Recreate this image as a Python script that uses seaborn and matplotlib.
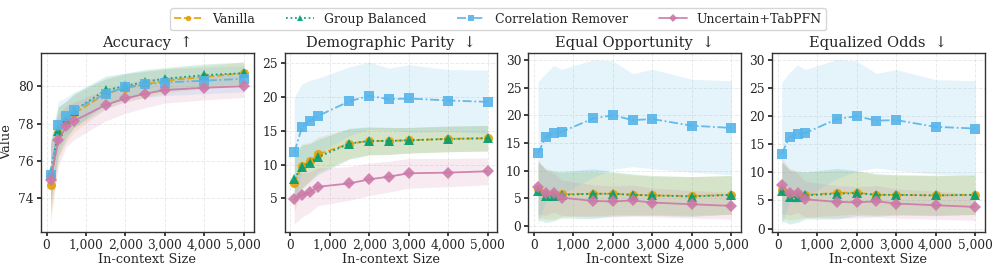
import numpy as np
import pandas as pd
import matplotlib
matplotlib.use("Agg")
import matplotlib.pyplot as plt
import seaborn as sns
from matplotlib.ticker import StrMethodFormatter

sizes = [100, 300, 500, 700, 1500, 2000, 2500, 3000, 4000, 5000]
methods = ["Vanilla", "Group Balanced", "Correlation Remover", "Uncertain+TabPFN"]
metrics = ["Accuracy  \u2191", "Demographic Parity  \u2193", "Equal Opportunity  \u2193", "Equalized Odds  \u2193"]

# means
acc_vanilla = [74.69, 77.5, 78.1, 78.55, 79.6, 79.9, 80.1, 80.3, 80.5, 80.7]
acc_group = [75.4, 77.6, 78.2, 78.7, 79.8, 80.0, 80.25, 80.4, 80.6, 80.7]
acc_cr = [75.25, 77.9, 78.4, 78.75, 79.6, 79.95, 80.1, 80.2, 80.3, 80.4]
acc_unc = [75.0, 77.1, 77.85, 78.15, 79.0, 79.35, 79.6, 79.8, 79.92, 80.0]

dp_vanilla = [7.2, 9.8, 10.5, 11.5, 13.1, 13.5, 13.5, 13.6, 13.8, 13.9]
dp_group = [7.9, 9.7, 10.3, 11.1, 13.1, 13.5, 13.5, 13.6, 13.8, 13.9]
dp_cr = [11.8, 15.6, 16.5, 17.2, 19.4, 20.2, 19.7, 19.8, 19.5, 19.3]
dp_unc = [4.85, 5.5, 5.9, 6.7, 7.2, 7.8, 8.2, 8.7, 8.8, 9.0]

eop_vanilla = [6.6, 5.8, 5.5, 5.7, 5.8, 5.8, 5.6, 5.5, 5.4, 5.6]
eop_group = [6.3, 5.4, 5.4, 5.6, 5.8, 5.8, 5.6, 5.5, 5.3, 5.6]
eop_cr = [13.1, 16.1, 16.7, 17.0, 19.4, 20.0, 19.1, 19.3, 18.1, 17.7]
eop_unc = [7.1, 5.9, 6.0, 5.1, 4.5, 4.4, 4.6, 4.2, 3.9, 3.6]

eod_vanilla = [6.9, 6.1, 6.0, 6.0, 6.35, 6.4, 6.0, 6.0, 5.9, 6.0]
eod_group = [6.6, 5.6, 5.6, 5.9, 6.2, 6.3, 6.0, 6.0, 5.9, 6.0]
eod_cr = [13.3, 16.3, 16.8, 17.0, 19.5, 20.0, 19.2, 19.3, 18.1, 17.8]
eod_unc = [7.7, 6.4, 6.35, 5.2, 4.75, 4.65, 4.85, 4.45, 4.15, 3.85]

# standard deviations (band half-widths)
acc_vanilla_sd = [2.1, 1.4, 1.1, 1.0, 0.8, 0.75, 0.7, 0.65, 0.6, 0.6]
acc_group_sd = [1.6, 1.3, 1.0, 0.9, 0.75, 0.7, 0.65, 0.6, 0.6, 0.6]
acc_cr_sd = [1.8, 1.3, 1.0, 0.95, 0.8, 0.75, 0.7, 0.7, 0.7, 0.7]
acc_unc_sd = [1.9, 1.4, 1.1, 1.0, 0.85, 0.8, 0.75, 0.7, 0.65, 0.6]

dp_vanilla_sd = [4.2, 3.3, 2.8, 2.6, 2.2, 2.0, 2.0, 1.9, 1.9, 1.9]
dp_group_sd = [4.0, 3.2, 2.8, 2.6, 2.3, 2.1, 2.0, 1.9, 1.9, 1.9]
dp_cr_sd = [8.2, 6.4, 6.0, 5.6, 5.1, 5.0, 4.6, 5.0, 4.6, 4.7]
dp_unc_sd = [3.7, 3.3, 3.0, 2.8, 2.5, 2.4, 2.3, 2.2, 2.1, 2.0]

eop_vanilla_sd = [5.0, 4.6, 4.3, 4.0, 4.0, 3.8, 3.6, 3.5, 3.5, 3.5]
eop_group_sd = [5.2, 4.8, 4.5, 4.2, 4.5, 4.0, 3.8, 3.6, 3.6, 3.5]
eop_cr_sd = [12.9, 11.5, 12.3, 11.3, 10.6, 9.8, 8.4, 9.0, 8.4, 8.5]
eop_unc_sd = [5.0, 4.0, 3.5, 3.2, 2.9, 2.8, 2.8, 2.6, 2.5, 2.4]

eod_vanilla_sd = [5.0, 4.6, 4.3, 4.0, 4.0, 3.8, 3.6, 3.5, 3.5, 3.5]
eod_group_sd = [5.2, 4.8, 4.5, 4.2, 4.5, 4.0, 3.8, 3.6, 3.6, 3.5]
eod_cr_sd = [12.7, 11.5, 12.3, 11.3, 10.6, 9.8, 8.4, 9.0, 8.4, 8.5]
eod_unc_sd = [5.0, 4.0, 3.5, 3.2, 2.9, 2.8, 2.8, 2.6, 2.5, 2.4]

means = {
    metrics[0]: [acc_vanilla, acc_group, acc_cr, acc_unc],
    metrics[1]: [dp_vanilla, dp_group, dp_cr, dp_unc],
    metrics[2]: [eop_vanilla, eop_group, eop_cr, eop_unc],
    metrics[3]: [eod_vanilla, eod_group, eod_cr, eod_unc],
}
sds = {
    metrics[0]: [acc_vanilla_sd, acc_group_sd, acc_cr_sd, acc_unc_sd],
    metrics[1]: [dp_vanilla_sd, dp_group_sd, dp_cr_sd, dp_unc_sd],
    metrics[2]: [eop_vanilla_sd, eop_group_sd, eop_cr_sd, eop_unc_sd],
    metrics[3]: [eod_vanilla_sd, eod_group_sd, eod_cr_sd, eod_unc_sd],
}

rows = []
for met in metrics:
    for mi, m in enumerate(methods):
        for s, v, sd in zip(sizes, means[met][mi], sds[met][mi]):
            rows.append(dict(metric=met, method=m, size=s, value=v, sd=sd))
df = pd.DataFrame(rows)

sns.set_theme(style="ticks")
plt.rcParams['font.family'] = ['DejaVu Serif', 'DejaVu Sans']

colors = {"Vanilla": "#E69F00", "Group Balanced": "#009E73",
          "Correlation Remover": "#56B4E9", "Uncertain+TabPFN": "#CC79A7"}
markers = {"Vanilla": "o", "Group Balanced": "^",
           "Correlation Remover": "s", "Uncertain+TabPFN": "D"}
dashes = {"Vanilla": (4, 1.5), "Group Balanced": (1, 1.5),
          "Correlation Remover": (5, 1.5, 1, 1.5), "Uncertain+TabPFN": ""}

ylims = {metrics[0]: (72.2, 81.8), metrics[1]: (0.0, 26.6),
         metrics[2]: (-1.1, 31.3), metrics[3]: (-0.6, 31.3)}
yticks = {metrics[0]: [74, 76, 78, 80], metrics[1]: [5, 10, 15, 20, 25],
          metrics[2]: [0, 5, 10, 15, 20, 25, 30], metrics[3]: [0, 5, 10, 15, 20, 25, 30]}

fig, axes = plt.subplots(1, 4, figsize=(9.96, 2.7), dpi=100)
fig.subplots_adjust(left=0.041, right=0.9887, top=0.805, bottom=0.141, wspace=0.146)

for ax, met in zip(axes, metrics):
    sub = df[df.metric == met]
    for m in methods:
        d = sub[sub.method == m]
        ax.fill_between(d["size"], d["value"] - d["sd"], d["value"] + d["sd"],
                        color=colors[m], alpha=0.15, linewidth=0)
    sns.lineplot(data=sub, x="size", y="value", hue="method", style="method",
                 hue_order=methods, style_order=methods, palette=colors,
                 markers=markers, dashes=dashes, markersize=6.5,
                 markeredgewidth=0, linewidth=1.3, alpha=0.9, ax=ax,
                 legend=(met == metrics[0]))
    ax.set_title(met, fontsize=10.5, pad=4)
    ax.set_xlabel("In-context Size", fontsize=9.3, labelpad=1)
    ax.set_ylabel("Value" if met == metrics[0] else "", fontsize=9.3)
    ax.set_ylim(*ylims[met])
    ax.set_yticks(yticks[met])
    ax.set_xlim(-145, 5245)
    ax.set_xticks([0, 1000, 2000, 3000, 4000, 5000])
    ax.xaxis.set_major_formatter(StrMethodFormatter("{x:,.0f}"))
    ax.tick_params(labelsize=8.8, length=3, pad=2)
    ax.grid(True, linestyle="--", linewidth=0.7, alpha=0.4)
    for sp in ax.spines.values():
        sp.set_color("#333333")
        sp.set_linewidth(1.0)

handles, labels = axes[0].get_legend_handles_labels()
axes[0].get_legend().remove()
fig.legend(handles, labels, loc="upper center", ncol=4, bbox_to_anchor=(0.5, 0.992),
           fontsize=9, frameon=True, handlelength=2.2, columnspacing=2.5,
           borderpad=0.35, handletextpad=0.8, markerscale=0.6)

fig.savefig("out.png", dpi=100)
